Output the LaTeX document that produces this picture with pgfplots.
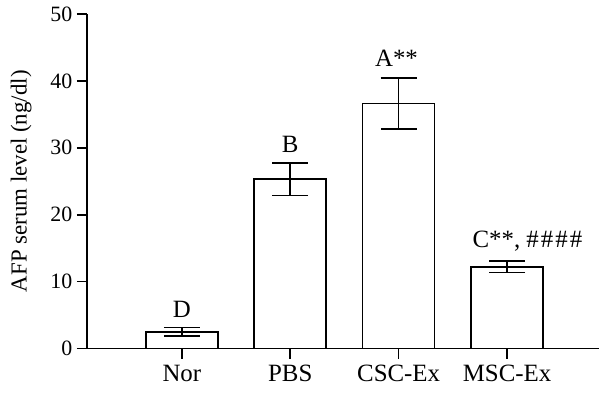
\documentclass[border=0pt]{standalone}
\usepackage{pgfplots}
\pgfplotsset{compat=1.18}
\usepackage{fontspec}
\setmainfont{Liberation Serif}
\begin{document}
\begin{tikzpicture}
\begin{axis}[
  scale only axis,
  width=513bp, height=335bp,
  xmin=0.124, xmax=4.85,
  ymin=0, ymax=50,
  axis x line*=bottom, axis y line*=left,
  axis line style={line width=1.6bp, -},
  xtick={1,2,3,4},
  xticklabels={Nor,PBS,CSC-Ex,MSC-Ex},
  ytick={0,10,20,30,40,50},
  tick style={line width=1.6bp, black},
  tick align=outside,
  major tick length=10bp,
  /pgf/number format/assume math mode=true,
  yticklabel style={font=\fontsize{22}{26}\selectfont, xshift=-1bp},
  xticklabel style={font=\fontsize{25}{29}\selectfont, yshift=-3bp},
  ylabel={AFP serum level (ng/dl)},
  ylabel style={font=\fontsize{23}{27}\selectfont, yshift=12bp},
  clip=false,
]
\addplot[ybar, bar width=0.664, fill=white, draw=black, line width=1.6bp,
  error bars/.cd, y dir=both, y explicit,
  error bar style={line width=1.6bp, black},
  error mark options={rotate=90, line width=1.6bp, mark size=18bp, black}]
  coordinates {
    (1,2.5) +- (0,0.65)
    (2,25.3) +- (0,2.45)
    (3,36.6) +- (0,3.8)
    (4,12.2) +- (0,0.85)
  };
\node[font=\fontsize{25}{29}\selectfont] at (axis cs:1,5.8) {D};
\node[font=\fontsize{25}{29}\selectfont] at (axis cs:2,30.5) {B};
\node[font=\fontsize{25}{29}\selectfont] at (axis cs:2.98,43.4) {A**};
\node[font=\fontsize{25}{29}\selectfont, anchor=west, inner sep=0pt] at (axis cs:3.68,16.1) {C**, \#\kern2bp\#\kern2bp\#\kern2bp\#};
\path (rel axis cs:-0.1696,-0.1433) rectangle (rel axis cs:1,1.0418);
\end{axis}
\end{tikzpicture}
\end{document}
